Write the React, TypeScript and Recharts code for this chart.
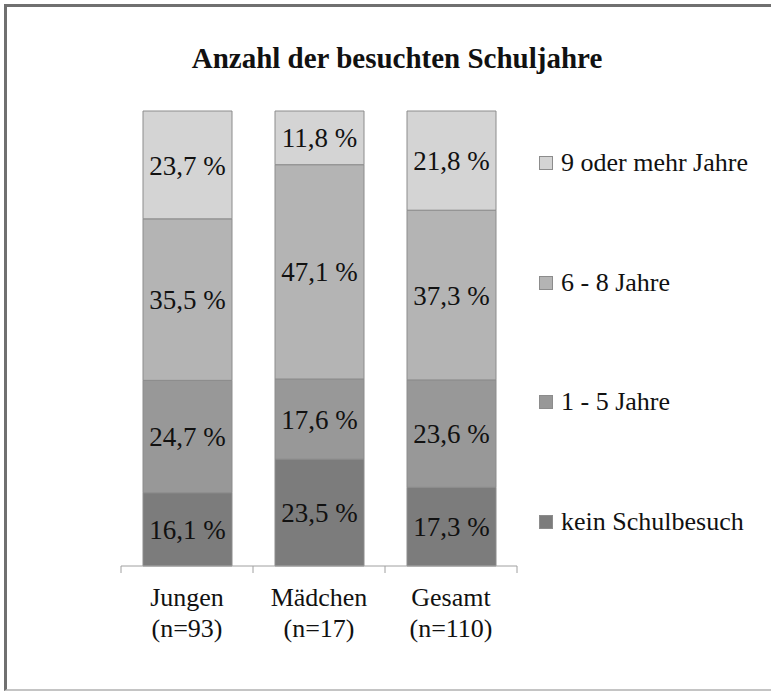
import { BarChart, Bar, XAxis, YAxis, LabelList } from "recharts";

const categories = ["Jungen", "Mädchen", "Gesamt"];
const sampleSizes = ["(n=93)", "(n=17)", "(n=110)"];
const keinSchulbesuch = [16.1, 23.5, 17.3];
const einsBisFuenf = [24.7, 17.6, 23.6];
const sechsBisAcht = [35.5, 47.1, 37.3];
const neunOderMehr = [23.7, 11.8, 21.8];

const series = [
  { key: "kein", name: "kein Schulbesuch", color: "#7c7c7c", values: keinSchulbesuch },
  { key: "eins", name: "1 - 5 Jahre", color: "#989898", values: einsBisFuenf },
  { key: "sechs", name: "6 - 8 Jahre", color: "#b4b4b4", values: sechsBisAcht },
  { key: "neun", name: "9 oder mehr Jahre", color: "#d4d4d4", values: neunOderMehr },
];

const data = categories.map((c, i) => {
  const row: any = { name: c };
  series.forEach((s) => (row[s.key] = s.values[i]));
  return row;
});

const FONT = "'Liberation Serif', 'Times New Roman', serif";
const W = 771;
const H = 691;
const PLOT_LEFT = 121;
const PLOT_RIGHT = 517;
const PLOT_TOP = 111;
const PLOT_BOTTOM = 566;
const XAXIS_H = 100;
const PLOT_W = PLOT_RIGHT - PLOT_LEFT;

const fmt = (v: any) => `${Number(v).toFixed(1).replace(".", ",")} %`;

const CategoryTick = (props: any) => {
  const { x, y, payload, index } = props;
  const half = PLOT_W / categories.length / 2;
  return (
    <g>
      <line x1={x - half} y1={y} x2={x - half} y2={y + 7} stroke="#a0a0a0" />
      {index === categories.length - 1 && (
        <line x1={x + half} y1={y} x2={x + half} y2={y + 7} stroke="#a0a0a0" />
      )}
      <text x={x} y={y} textAnchor="middle" fontFamily={FONT} fontSize={26} fill="#111">
        <tspan x={x} dy={40}>{payload.value}</tspan>
        <tspan x={x} dy={31}>{sampleSizes[index]}</tspan>
      </text>
    </g>
  );
};

const legendTops = [163, 283, 402, 522];

export default function App() {
  const legendItems = [...series].reverse();
  return (
    <div style={{ position: "absolute", left: 0, top: 0, width: W, height: H, background: "#fff", overflow: "hidden" }}>
      <div
        style={{
          position: "absolute",
          left: 4,
          top: 4,
          width: 780,
          height: 682,
          borderTop: "3px solid #707070",
          borderLeft: "3px solid #707070",
          borderBottom: "2px solid #c4c4c4",
        }}
      />
      <div
        style={{
          position: "absolute",
          left: 0,
          top: 44,
          width: 794,
          textAlign: "center",
          fontFamily: FONT,
          fontWeight: "bold",
          fontSize: 29,
          lineHeight: "29px",
          color: "#111",
        }}
      >
        Anzahl der besuchten Schuljahre
      </div>
      <div style={{ position: "absolute", left: 0, top: 0 }}>
        <BarChart
          width={W}
          height={H}
          data={data}
          barSize={89}
          margin={{
            top: PLOT_TOP,
            left: PLOT_LEFT,
            right: W - PLOT_RIGHT,
            bottom: H - PLOT_BOTTOM - XAXIS_H,
          }}
        >
          <XAxis
            dataKey="name"
            height={XAXIS_H}
            tickLine={false}
            tickSize={0}
            tickMargin={0}
            axisLine={{ stroke: "#a0a0a0" }}
            tick={<CategoryTick />}
            interval={0}
          />
          <YAxis hide domain={[0, 100]} />
          {series.map((s) => (
            <Bar
              key={s.key}
              dataKey={s.key}
              name={s.name}
              stackId="a"
              fill={s.color}
              stroke="#8c8c8c"
              strokeWidth={1}
              isAnimationActive={false}
            >
              <LabelList
                dataKey={s.key}
                position="center"
                formatter={fmt}
                style={{ fontFamily: FONT, fontSize: 27, fill: "#111" }}
              />
            </Bar>
          ))}
        </BarChart>
      </div>
      {legendItems.map((s, i) => (
        <div
          key={s.key}
          style={{
            position: "absolute",
            left: 539,
            top: legendTops[i] - 15,
            height: 30,
            display: "flex",
            alignItems: "center",
            fontFamily: FONT,
            fontSize: 26,
            color: "#111",
            whiteSpace: "nowrap",
          }}
        >
          <span
            style={{
              display: "inline-block",
              width: 12,
              height: 12,
              background: s.color,
              border: "1px solid #8c8c8c",
              marginRight: 8,
            }}
          />
          {s.name}
        </div>
      ))}
    </div>
  );
}
